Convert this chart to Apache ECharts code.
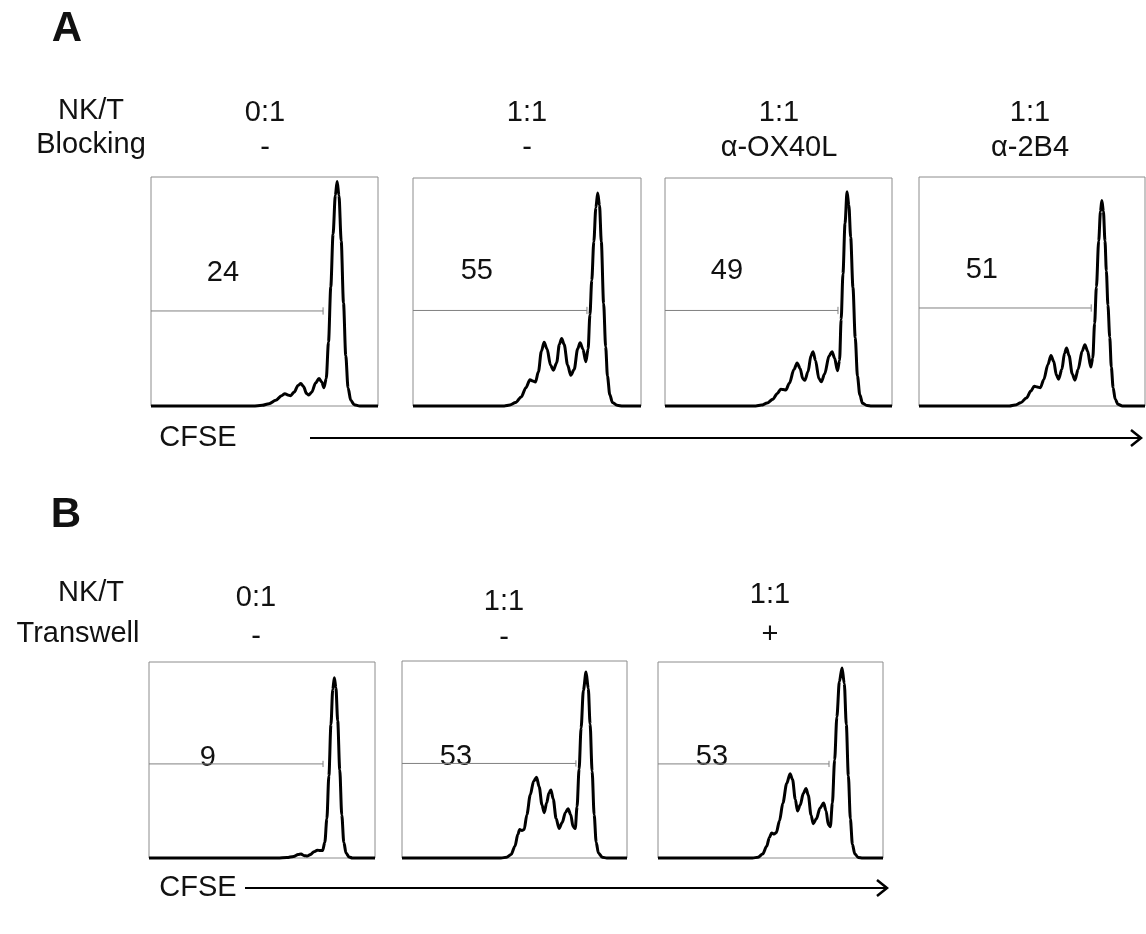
<!DOCTYPE html>
<html>
<head>
<meta charset="utf-8">
<script src="https://cdn.jsdelivr.net/npm/echarts@6/dist/echarts.min.js"></script>
<style>html,body{margin:0;padding:0;background:#fff}#c{width:1146px;height:934px}</style>
</head>
<body>
<div id="c"></div>
<script>
// ---- DATA ----
const panelNames = ['A1','A2','A3','A4','B1','B2','B3'];
const percentLabels = ['24','55','49','51','9','53','53'];
const gateLevels = [41.5, 41.9, 41.9, 42.8, 48, 48, 48];
const gateEnds = [75.8, 76.3, 76.2, 76.2, 77, 77.3, 76];
const labelX = [31.7, 28, 27.3, 27.8, 26, 24, 24];
const labelY = [58, 59.4, 59.4, 59.4, 51, 51.5, 51.5];

const curveA1 = [[0,0],[45,0],[49,0.3],[52,1],[55,2.5],[57.5,4.5],[59,5.4],[60.3,4.8],[61.5,4.5],[63,6],[64.8,9],[66,9.8],[67.2,8.5],[68.5,5.5],[69.5,4.8],[70.8,6],[72.5,10],[74,12],[75.2,10.5],[76.2,8],[77.2,12],[78.2,28],[79.2,52],[80.2,75],[81.2,92],[82,98],[82.8,92],[83.8,72],[84.8,45],[85.8,22],[86.8,8],[88,2.5],[89.5,0.6],[92,0],[100,0]];
const curveA2 = [[0,0],[40,0],[42.5,0.4],[45,1.5],[47.5,4],[49.5,8],[51.3,11.5],[52.5,11],[53.7,10.5],[55,15],[56.3,24],[57.5,28],[58.8,25],[60.3,18],[61.6,15.7],[63,19],[64.2,27],[65.2,29.6],[66.3,27],[67.8,18],[69.2,13.5],[70.7,16],[72.2,25],[73.3,27.7],[74.5,25],[75.8,19.4],[76.8,25],[77.6,40],[78.4,55],[79.3,72],[80.2,87],[81,93.4],[81.8,88],[82.6,72],[83.6,45],[84.5,26],[85.3,13],[86.3,5],[87.5,1.5],[89.5,0.3],[92,0],[100,0]];
const curveA3 = [[0,0],[40,0],[42.5,0.4],[45,1.3],[47.5,3],[49.5,5.5],[51,7.4],[52,7.2],[53.2,7],[54.8,10],[56.8,16],[58.2,18.9],[59.5,16.5],[60.7,12],[61.6,11.3],[63,15],[64.3,22],[65.2,23.8],[66.3,20],[67.8,12],[68.9,10.6],[70.3,14],[72.3,22],[73.6,23.8],[74.7,21],[76,15.5],[76.9,20],[77.6,38],[78.4,58],[79.3,80],[80.2,94],[81,88],[81.8,74],[82.8,52],[83.8,30],[84.8,13],[85.8,5],[87,1.2],[89,0.2],[91,0],[100,0]];
const curveA4 = [[0,0],[40,0],[42.5,0.4],[45,1.4],[47.5,3.5],[49.5,6.5],[51,8.6],[52.3,8.3],[53.7,8],[55.2,11.5],[57,18],[58.4,22],[59.6,19.5],[60.8,13.5],[61.8,11.7],[63.2,16],[64.4,23],[65.3,25.3],[66.4,22],[67.8,14],[69,11.3],[70.4,16],[72.2,24],[73.4,26.8],[74.6,24],[76,17],[76.9,21],[77.7,36],[78.5,52],[79.5,72],[80.3,85],[80.9,89.7],[81.6,85],[82.3,72],[82.9,59],[83.6,44],[84.4,30],[85.1,17],[85.9,8],[86.8,3],[88,0.8],[90,0],[100,0]];
const curveB1 = [[0,0],[57,0],[61,0.2],[64,0.8],[66,1.8],[67.3,2],[68.7,1.2],[70,1],[71.5,1.8],[73,3.2],[74.5,4],[75.8,3.8],[76.8,3.8],[77.8,8],[78.7,20],[79.6,42],[80.5,68],[81.3,86],[82,92],[82.7,87],[83.5,70],[84.4,45],[85.3,22],[86.2,8],[87.2,2.5],[88.5,0.5],[90,0],[100,0]];
const curveB2 = [[0,0],[44,0],[46.5,0.4],[48.5,1.8],[50.2,6],[51.5,12],[52.3,14.5],[53.3,14],[54.3,14.5],[55.5,22],[57,32],[58.5,39],[59.8,41],[61,36],[62.2,27],[63.2,23],[64.3,28],[65.3,33],[66.2,34.5],[67.2,30],[68.5,20],[69.8,15],[71.2,18],[72.6,23],[73.8,25],[75,22],[76,16],[77,15],[77.8,26],[78.7,45],[79.6,66],[80.6,85],[81.8,94.4],[82.8,86],[83.6,68],[84.5,44],[85.4,22],[86.3,8],[87.3,2.5],[89,0.4],[91,0],[100,0]];
const curveB3 = [[0,0],[42,0],[44.5,0.4],[46.5,2],[48.3,6],[49.5,10.5],[50.5,12.8],[51.6,12.2],[52.6,13],[54,19],[55.5,28],[57.2,38],[58.7,43],[59.8,40],[61,30],[62,24],[63.2,27],[64.6,33],[65.8,35.5],[66.8,32],[68,22],[69,17.5],[70.4,20],[72,25.5],[73.6,28],[74.7,24],[75.7,17],[76.6,16],[77.5,28],[78.5,50],[79.5,72],[80.6,90],[81.8,97],[82.8,89],[83.7,68],[84.6,42],[85.5,20],[86.4,7],[87.5,2],[89,0.3],[91,0],[100,0]];
const curves = [curveA1, curveA2, curveA3, curveA4, curveB1, curveB2, curveB3];

const headerA_row1 = ['0:1','1:1','1:1','1:1'];
const headerA_row2 = ['-','-','\u03b1-OX40L','\u03b1-2B4'];
const headerB_row1 = ['0:1','1:1','1:1'];
const headerB_row2 = ['-','-','+'];

// ---- LAYOUT ----
const grids = [
  {left:151, top:177, width:227, height:229},
  {left:413, top:178, width:228, height:228},
  {left:665, top:178, width:227, height:228},
  {left:919, top:177, width:226, height:229},
  {left:149, top:662, width:226, height:196},
  {left:402, top:661, width:225, height:197},
  {left:658, top:662, width:225, height:196}
];
const FONT = '"Liberation Sans", Arial, Helvetica, sans-serif';
const FS = 29;

const option = {
  backgroundColor:'#fff',
  animation:false,
  grid: grids.map(g => Object.assign({show:true, borderColor:'#8c8c8c', borderWidth:1, backgroundColor:'transparent'}, g)),
  xAxis: grids.map((g,i)=>({type:'value', gridIndex:i, min:0, max:100, show:false})),
  yAxis: grids.map((g,i)=>({type:'value', gridIndex:i, min:0, max:100, show:false})),
  series: [],
  graphic: []
};

curves.forEach((c,i)=>{
  option.series.push({
    type:'line', xAxisIndex:i, yAxisIndex:i, data:c, smooth:0.3, smoothMonotone:'x', showSymbol:false, symbol:'none',
    clip:false, lineStyle:{color:'#000', width:3}, z:5
  });
  option.series.push({
    type:'line', xAxisIndex:i, yAxisIndex:i, data:[[0,gateLevels[i]],[gateEnds[i],gateLevels[i]]],
    symbol:'none', lineStyle:{color:'#808080', width:1}, z:3
  });
  option.series.push({
    type:'line', xAxisIndex:i, yAxisIndex:i, data:[[gateEnds[i],gateLevels[i]-1.6],[gateEnds[i],gateLevels[i]+1.6]],
    symbol:'none', lineStyle:{color:'#808080', width:1}, z:3
  });
  option.series.push({
    type:'scatter', xAxisIndex:i, yAxisIndex:i, data:[[labelX[i],labelY[i]]], symbolSize:0,
    itemStyle:{opacity:1},
    label:{show:true, position:'inside', formatter:()=>percentLabels[i], color:'#111', opacity:1, fontSize:FS, fontFamily:FONT}
  });
});

function txt(t, x, y, opts){
  opts = opts || {};
  return {type:'text', x:x, y:y, silent:true, style:{text:t, fill:'#111', font:(opts.bold?'bold ':'')+(opts.size||FS)+'px '+FONT, textAlign:opts.align||'center', textVerticalAlign:'middle', align:opts.align||'center', verticalAlign:'middle'}};
}
const G = option.graphic;
G.push(txt('A', 67, 29, {bold:true, size:42}));
G.push(txt('NK/T', 91, 111));
G.push(txt('Blocking', 91, 145));
const colAx = [265, 527, 779, 1030];
colAx.forEach((x,i)=>{ G.push(txt(headerA_row1[i], x, 113)); G.push(txt(headerA_row2[i], x, 148)); });
G.push(txt('CFSE', 198, 438));
G.push({type:'line', shape:{x1:310,y1:438,x2:1141,y2:438}, style:{stroke:'#000', lineWidth:2}});
G.push({type:'polyline', shape:{points:[[1131,430],[1141,438],[1131,446]]}, style:{stroke:'#000', lineWidth:2.5, fill:null}});

G.push(txt('B', 66, 515, {bold:true, size:42}));
G.push(txt('NK/T', 91, 593));
G.push(txt('Transwell', 78, 634));
const colBx = [256, 504, 770];
const rowB1y = [598, 602, 595];
const rowB2y = [637, 638, 635];
colBx.forEach((x,i)=>{ G.push(txt(headerB_row1[i], x, rowB1y[i])); G.push(txt(headerB_row2[i], x, rowB2y[i])); });
G.push(txt('CFSE', 198, 888));
G.push({type:'line', shape:{x1:245,y1:888,x2:887,y2:888}, style:{stroke:'#000', lineWidth:2}});
G.push({type:'polyline', shape:{points:[[877,880],[887,888],[877,896]]}, style:{stroke:'#000', lineWidth:2.5, fill:null}});

const chart = echarts.init(document.getElementById('c'), null, {renderer:'canvas'});
chart.setOption(option);
</script>
</body>
</html>
